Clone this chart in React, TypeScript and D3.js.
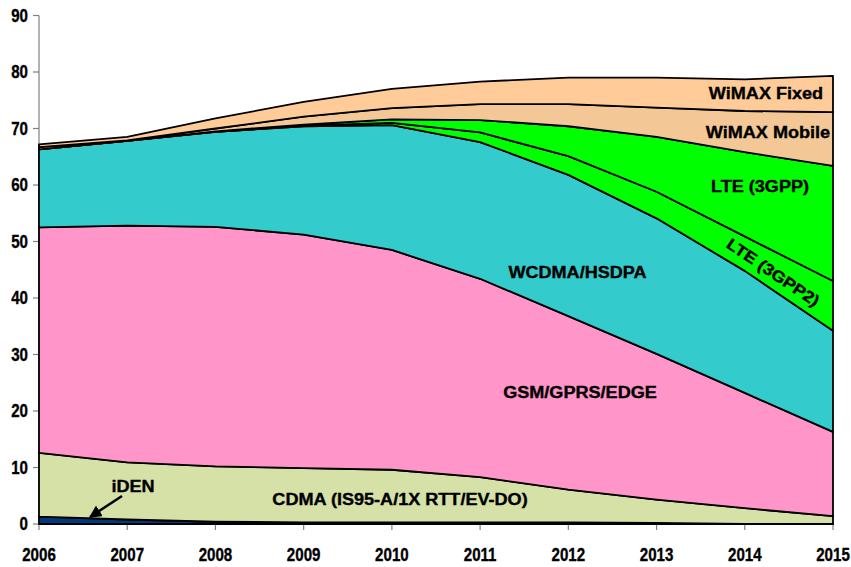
import React from 'react';
import * as d3 from 'd3';

const YEARS = [2006, 2007, 2008, 2009, 2010, 2011, 2012, 2013, 2014, 2015];
const Y_TICKS = [0, 10, 20, 30, 40, 50, 60, 70, 80, 90];

// values per technology, bottom to top of the stack
const IDEN = [1.3, 0.8, 0.4, 0.3, 0.3, 0.3, 0.3, 0.2, 0, 0];
const CDMA = [11.3, 10.1, 9.8, 9.6, 9.3, 8.0, 5.8, 4.1, 2.8, 1.4];
const GSM = [39.9, 41.9, 42.4, 41.3, 38.9, 35.1, 30.7, 25.8, 20.4, 14.9];
const WCDMA = [13.8, 15.0, 16.8, 19.2, 22.1, 24.2, 25.0, 24.0, 21.6, 17.9];
const LTE2 = [0, 0, 0, 0.1, 0.4, 1.7, 3.3, 4.7, 6.1, 8.8];
const LTE = [0, 0, 0.1, 0.2, 0.6, 2.2, 5.3, 9.7, 14.9, 20.4];
const WIMAX_MOBILE = [0.4, 0.1, 0.5, 1.4, 2.0, 2.8, 3.9, 5.2, 7.3, 9.5];
const WIMAX_FIXED = [0.5, 0.6, 1.8, 2.6, 3.4, 4.0, 4.7, 5.3, 5.6, 6.4];

const SERIES = [
  { key: 'iden', values: IDEN, color: '#003a7a' },
  { key: 'cdma', values: CDMA, color: '#d5e1a7' },
  { key: 'gsm', values: GSM, color: '#ff95c8' },
  { key: 'wcdma', values: WCDMA, color: '#33cbcc' },
  { key: 'lte2', values: LTE2, color: '#00ff00' },
  { key: 'lte', values: LTE, color: '#00ff00' },
  { key: 'wimaxMobile', values: WIMAX_MOBILE, color: '#f3c896' },
  { key: 'wimaxFixed', values: WIMAX_FIXED, color: '#ffcc99' },
];

const FONT = '"Liberation Sans", Arial, sans-serif';

const App = () => {
  const width = 851;
  const height = 567;

  const x = d3.scaleLinear().domain([2006, 2015]).range([39, 833]);
  const y = d3.scaleLinear().domain([0, 90]).range([524, 15.5]);

  const rows = YEARS.map((yr, i) => {
    const r: any = { year: yr };
    SERIES.forEach(s => { r[s.key] = s.values[i]; });
    return r;
  });
  const stacked = d3.stack().keys(SERIES.map(s => s.key))(rows);

  const area = d3.area<any>()
    .x(d => x(d.data.year))
    .y0(d => y(d[0]))
    .y1(d => y(d[1]));

  const textStyle = {
    fontFamily: FONT,
    fontWeight: 'bold' as const,
    fill: '#000',
    stroke: '#000',
    strokeWidth: 0.35,
  };

  // label: text, centre x, baseline y
  const label = (text: string, cx: number, by: number) => (
    <text
      key={text}
      transform={`translate(${cx},${by}) scale(1.13,1)`}
      textAnchor="middle"
      fontSize={16}
      style={textStyle}
    >{text}</text>
  );

  return (
    <svg width={width} height={height} style={{ position: 'absolute', left: 0, top: 0, background: '#fff' }}>
      <defs>
        <marker id="arrow" viewBox="0 0 10 10" refX="9" refY="5" markerWidth="5" markerHeight="5" orient="auto">
          <path d="M0,0 L10,5 L0,10 z" fill="#000" />
        </marker>
      </defs>

      {/* y axis */}
      <line x1={x(2006)} x2={x(2006)} y1={y(90)} y2={y(0)} stroke="#808080" strokeWidth={1.2} />
      {Y_TICKS.map(t => (
        <g key={t}>
          <line x1={x(2006) - 6} x2={x(2006)} y1={y(t)} y2={y(t)} stroke="#808080" strokeWidth={1.2} />
          <text transform={`translate(28,${y(t)}) scale(0.84,1)`} dy="0.36em" textAnchor="end"
            fontSize={18} style={textStyle}>{t}</text>
        </g>
      ))}

      {/* x axis */}
      <line x1={x(2006)} x2={x(2015)} y1={y(0)} y2={y(0)} stroke="#808080" strokeWidth={1.2} />
      {YEARS.map(yr => (
        <g key={yr}>
          <line x1={x(yr)} x2={x(yr)} y1={y(0)} y2={y(0) + 6} stroke="#808080" strokeWidth={1.2} />
          <text transform={`translate(${x(yr)},561) scale(0.84,1)`} textAnchor="middle"
            fontSize={18} style={textStyle}>{yr}</text>
        </g>
      ))}

      {/* stacked areas */}
      {stacked.map((layer, i) => (
        <path
          key={layer.key}
          d={area(layer as any) || ''}
          fill={SERIES[i].color}
          stroke="#000"
          strokeWidth={1.8}
          strokeLinejoin="round"
        />
      ))}

      {/* labels */}
      {label('WiMAX Fixed', 766, 98.5)}
      {label('WiMAX Mobile', 768, 137.5)}
      {label('LTE (3GPP)', 760, 191.5)}
      <text
        transform={`translate(770,277) rotate(34) scale(1.13,1)`}
        textAnchor="middle"
        fontSize={16}
        style={textStyle}
      >LTE (3GPP2)</text>
      {label('WCDMA/HSDPA', 577.5, 277.5)}
      {label('GSM/GPRS/EDGE', 580, 397.5)}
      {label('CDMA (IS95-A/1X RTT/EV-DO)', 400, 504.5)}
      {label('iDEN', 133, 491.5)}

      <line x1={122} y1={496} x2={90} y2={517} stroke="#000" strokeWidth={2.5} markerEnd="url(#arrow)" />
    </svg>
  );
};

export default App;
